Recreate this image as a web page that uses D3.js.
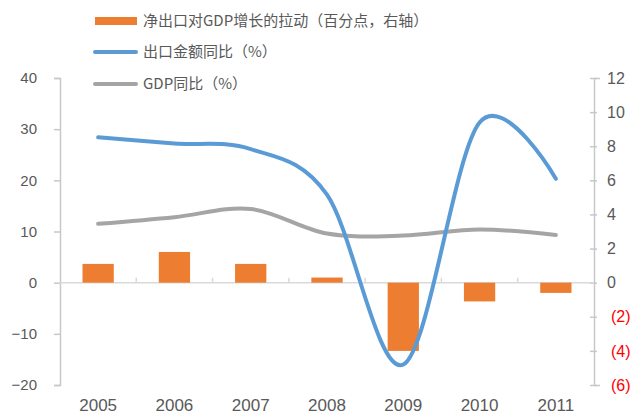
<!DOCTYPE html>
<html>
<head>
<meta charset="utf-8">
<script src="https://cdn.jsdelivr.net/npm/d3@7"></script>
<style>
  body { margin: 0; background: #fff; }
  svg text { font-family: Arial, "Liberation Sans", sans-serif; }
</style>
</head>
<body>
<div id="chart"></div>
<script>
// data
var years = ["2005", "2006", "2007", "2008", "2009", "2010", "2011"];
var netExport = [1.1, 1.8, 1.1, 0.3, -4.0, -1.1, -0.6];      // right axis
var exportGrowth = [28.4, 27.2, 26.1, 17.2, -16.0, 31.3, 20.3]; // left axis
var gdpGrowth = [11.5, 12.8, 14.4, 9.6, 9.2, 10.4, 9.3];      // left axis
var leftTicks = [-20, -10, 0, 10, 20, 30, 40];
var rightTicks = [-6, -4, -2, 0, 2, 4, 6, 8, 10, 12];
var legendLabels = ["净出口对GDP增长的拉动（百分点，右轴）", "出口金额同比（%）", "GDP同比（%）"];

var width = 630, height = 415;
var plotLeft = 60, plotRight = 594, plotTop = 78, plotBottom = 385;

var svg = d3.select("#chart").append("svg")
    .attr("width", width)
    .attr("height", height);

var x = d3.scaleBand().domain(years).range([plotLeft, plotRight]).padding(0);
var yL = d3.scaleLinear().domain([-20, 40]).range([plotBottom, plotTop]);
var yR = d3.scaleLinear().domain([-6, 12]).range([plotBottom, plotTop]);

var axisColor = "#c8c8c8";
var textColor = "#595959";

// left axis
var gl = svg.append("g")
    .attr("transform", "translate(" + plotLeft + ",0)")
    .call(d3.axisLeft(yL).tickValues(leftTicks).tickSize(6).tickPadding(17)
      .tickFormat(function(d) { return d < 0 ? "\u2212" + Math.abs(d) : d; }));
gl.selectAll("path, line").attr("stroke", axisColor).attr("stroke-width", 1.5);
gl.selectAll("text").attr("fill", textColor).style("font-size", "15px");

// right axis
var gr = svg.append("g")
    .attr("transform", "translate(" + plotRight + ",0)")
    .call(d3.axisRight(yR).tickValues(rightTicks).tickSize(6).tickPadding(7)
      .tickFormat(function(d) { return d < 0 ? "(" + Math.abs(d) + ")" : d; }));
gr.selectAll("path, line").attr("stroke", axisColor).attr("stroke-width", 1.5);
gr.selectAll(".tick line").attr("x1", -4).attr("x2", 3);
gr.selectAll("text")
    .attr("fill", function(d) { return d < 0 ? "#ff0000" : textColor; })
    .attr("dx", function(d) { return d < 0 ? 4 : 0; })
    .style("font-size", "16px");

// category axis on zero line
svg.append("line")
    .attr("x1", plotLeft).attr("x2", plotRight)
    .attr("y1", yL(0)).attr("y2", yL(0))
    .attr("stroke", "#d9d9d9").attr("stroke-width", 1.5);
svg.selectAll(".ctick")
    .data(years.slice(1))
    .enter().append("line")
    .attr("x1", function(d) { return x(d); })
    .attr("x2", function(d) { return x(d); })
    .attr("y1", yL(0) - 5).attr("y2", yL(0))
    .attr("stroke", "#d9d9d9").attr("stroke-width", 1.5);

svg.selectAll(".xlabel")
    .data(years)
    .enter().append("text")
    .attr("x", function(d) { return x(d) + x.bandwidth() / 2; })
    .attr("y", 411)
    .attr("text-anchor", "middle")
    .attr("fill", textColor)
    .style("font-size", "17px")
    .text(function(d) { return d; });

// bars
var bw = x.bandwidth() * 0.41;
svg.selectAll(".bar")
    .data(netExport)
    .enter().append("rect")
    .attr("x", function(d, i) { return x(years[i]) + (x.bandwidth() - bw) / 2; })
    .attr("y", function(d) { return d >= 0 ? yR(d) : yR(0); })
    .attr("width", bw)
    .attr("height", function(d) { return Math.abs(yR(d) - yR(0)); })
    .attr("fill", "#ed7d31");

// lines
var line = d3.line()
    .x(function(d, i) { return x(years[i]) + x.bandwidth() / 2; })
    .y(function(d) { return yL(d); })
    .curve(d3.curveCardinal.tension(0));

svg.append("path")
    .datum(gdpGrowth)
    .attr("fill", "none")
    .attr("stroke", "#a5a5a5")
    .attr("stroke-width", 4)
    .attr("stroke-linecap", "round")
    .attr("d", line);

svg.append("path")
    .datum(exportGrowth)
    .attr("fill", "none")
    .attr("stroke", "#5b9bd5")
    .attr("stroke-width", 4)
    .attr("stroke-linecap", "round")
    .attr("d", line);

// legend
var legY = [21, 52, 84];
svg.append("rect")
    .attr("x", 95).attr("y", 17).attr("width", 42).attr("height", 8)
    .attr("fill", "#ed7d31");
svg.append("line")
    .attr("x1", 95).attr("x2", 136).attr("y1", legY[1]).attr("y2", legY[1])
    .attr("stroke", "#5b9bd5").attr("stroke-width", 4).attr("stroke-linecap", "round");
svg.append("line")
    .attr("x1", 95).attr("x2", 136).attr("y1", legY[2]).attr("y2", legY[2])
    .attr("stroke", "#a5a5a5").attr("stroke-width", 4).attr("stroke-linecap", "round");

svg.selectAll(".leg")
    .data(legendLabels)
    .enter().append("text")
    .attr("x", 143)
    .attr("y", function(d, i) { return legY[i]; })
    .attr("dy", "0.35em")
    .attr("fill", textColor)
    .style("font-family", "'Noto Sans CJK SC', sans-serif")
    .style("font-size", "15px")
    .text(function(d) { return d; });
</script>
</body>
</html>
